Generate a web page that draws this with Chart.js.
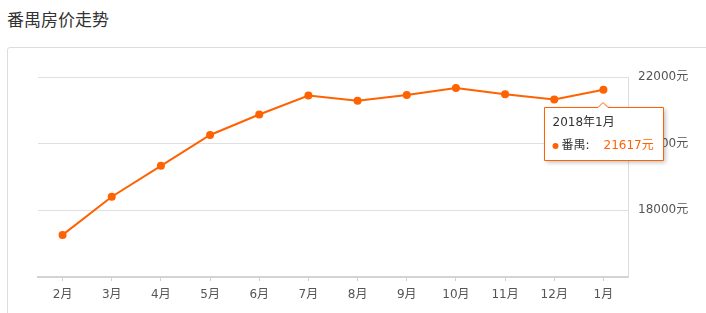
<!DOCTYPE html>
<html>
<head>
<meta charset="utf-8">
<script src="https://cdn.jsdelivr.net/npm/chart.js@4/dist/chart.umd.min.js"></script>
<style>
  html, body { margin: 0; padding: 0; background: #fff; width: 706px; height: 313px; overflow: hidden; }
  #title { position: absolute; left: 7px; top: 6px; font-family: 'Noto Sans CJK SC', sans-serif; font-size: 17px; color: #333; }
  #box { position: absolute; left: 7px; top: 47px; width: 720px; height: 300px; border: 1px solid #dcdcdc; border-radius: 3px; }
  #wrap { position: absolute; left: 0; top: 0; width: 706px; height: 313px; }
</style>
</head>
<body>
<div id="title">番禺房价走势</div>
<div id="box"></div>
<div id="wrap"><canvas id="c" width="706" height="313"></canvas></div>
<script>
const categories = ['2月', '3月', '4月', '5月', '6月', '7月', '8月', '9月', '10月', '11月', '12月', '1月'];
const seriesName = '番禺';
const prices = [17263, 18409, 19334, 20260, 20875, 21442, 21284, 21463, 21672, 21484, 21322, 21617];
const yTicks = [16000, 18000, 20000, 22000];
const tooltipTitle = '2018年1月';
const tooltipIndex = 11;
const unit = '元';

const ORANGE = '#ff6200';
const FONT = "'DejaVu Sans', 'Noto Sans CJK SC', sans-serif";
Chart.defaults.font.family = FONT;
Chart.defaults.font.size = 12;

const tooltipPlugin = {
  id: 'fixedTip',
  afterDraw(chart) {
    const pt = chart.getDatasetMeta(0).data[tooltipIndex];
    const ctx = chart.ctx;
    const px = Math.round(pt.x), py = Math.round(pt.y);
    const left = px - 59 + 0.5, top = py + 17 + 0.5, w = 119, h = 53;
    ctx.save();
    ctx.shadowColor = 'rgba(0,0,0,0.25)';
    ctx.shadowBlur = 4;
    ctx.shadowOffsetX = 2;
    ctx.shadowOffsetY = 2;
    ctx.beginPath();
    ctx.moveTo(left, top);
    ctx.lineTo(px - 5, top);
    ctx.lineTo(px, top - 5);
    ctx.lineTo(px + 5, top);
    ctx.lineTo(left + w, top);
    ctx.lineTo(left + w, top + h);
    ctx.lineTo(left, top + h);
    ctx.closePath();
    ctx.fillStyle = '#fff';
    ctx.fill();
    ctx.shadowColor = 'transparent';
    ctx.strokeStyle = ORANGE;
    ctx.lineWidth = 1;
    ctx.stroke();
    ctx.textBaseline = 'middle';
    ctx.textAlign = 'left';
    ctx.font = '12px ' + FONT;
    ctx.fillStyle = '#333';
    ctx.fillText(tooltipTitle, left + 8, top + 15);
    ctx.beginPath();
    ctx.arc(left + 11, top + 38.5, 3, 0, Math.PI * 2);
    ctx.fillStyle = ORANGE;
    ctx.fill();
    ctx.fillStyle = '#333';
    ctx.fillText(seriesName + ':', left + 17, top + 38.5);
    ctx.fillStyle = ORANGE;
    ctx.fillText(prices[tooltipIndex] + unit, left + 59, top + 38.5);
    ctx.restore();
  }
};

new Chart(document.getElementById('c'), {
  type: 'line',
  data: {
    labels: categories,
    datasets: [{
      label: seriesName,
      data: prices,
      borderColor: ORANGE,
      backgroundColor: ORANGE,
      borderWidth: 2,
      pointRadius: 4,
      pointHoverRadius: 4,
      pointBackgroundColor: ORANGE,
      pointBorderWidth: 0,
      tension: 0
    }]
  },
  options: {
    responsive: false,
    animation: false,
    events: [],
    layout: { padding: { left: 38, top: 77, right: 0, bottom: 0 } },
    plugins: { legend: { display: false }, tooltip: { enabled: false } },
    scales: {
      x: {
        offset: true,
        grid: { drawOnChartArea: false, drawTicks: true, tickLength: 4, color: '#d0d0d0' },
        border: { color: '#d4d4d4', width: 2 },
        ticks: { color: '#555', padding: 7, font: { size: 12 } },
        afterFit(s) { s.height = 36; }
      },
      y: {
        position: 'right',
        min: yTicks[0],
        max: yTicks[yTicks.length - 1],
        afterBuildTicks(s) { s.ticks = yTicks.map(v => ({ value: v })); },
        grid: { drawTicks: false, color: '#e0e0e0' },
        border: { display: true, color: '#dcdcdc', width: 1 },
        ticks: {
          color: '#555',
          padding: 10,
          font: { size: 12 },
          callback: v => (v === yTicks[0] ? '' : v + unit)
        },
        afterFit(s) { s.width = 78; }
      }
    }
  },
  plugins: [tooltipPlugin]
});
</script>
</body>
</html>
